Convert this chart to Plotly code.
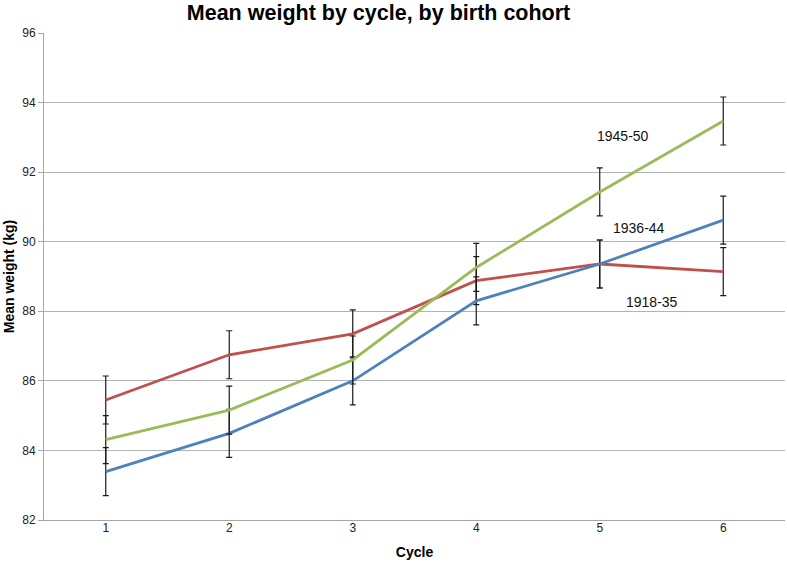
import plotly.graph_objects as go

cycles = [1, 2, 3, 4, 5, 6]
cohort_1918_35 = [85.45, 86.75, 87.35, 88.88, 89.36, 89.14]
cohort_1936_44 = [83.39, 84.49, 86.00, 88.30, 89.36, 90.62]
cohort_1945_50 = [84.31, 85.16, 86.60, 89.26, 91.43, 93.47]
err = 0.69

series = [
    ("1918-35", cohort_1918_35, "#C0504D"),
    ("1936-44", cohort_1936_44, "#4F81BD"),
    ("1945-50", cohort_1945_50, "#9BBB59"),
]

labels = [
    ("1945-50", 5.19, 93.03),
    ("1936-44", 5.32, 90.40),
    ("1918-35", 5.42, 88.27),
]

fig = go.Figure()
for name, vals, col in series:
    fig.add_trace(go.Scatter(
        x=cycles, y=vals, mode="lines", name=name,
        line=dict(color=col, width=2.8),
        error_y=dict(type="constant", value=err, color="#1a1a1a", thickness=1.2, width=3),
    ))

for text, x, y in labels:
    fig.add_annotation(x=x, y=y, text=text, showarrow=False,
                       font=dict(family="Liberation Sans, Arial", size=14, color="#111"))

fig.update_layout(
    width=787, height=566,
    margin=dict(l=44, r=2, t=33, b=46),
    paper_bgcolor="white", plot_bgcolor="white",
    showlegend=False,
    title=dict(text="<b>Mean weight by cycle, by birth cohort</b>", x=0.481, xanchor="center",
               y=0.978, yanchor="middle",
               font=dict(family="Liberation Sans, Arial", size=21.5, color="black")),
    font=dict(family="Liberation Sans, Arial", size=12, color="#222"),
)
fig.update_xaxes(
    range=[0.5, 6.5], tickvals=cycles, showgrid=False, zeroline=False, automargin=False,
    showline=True, linecolor="#a6a6a6", linewidth=1, ticks="", ticklabelstandoff=-3,
    title=dict(text="<b>Cycle</b>", font=dict(size=14, color="black"), standoff=12),
)
fig.update_yaxes(
    range=[82, 96], dtick=2, showgrid=True, gridcolor="#b3b3b3", gridwidth=1,
    zeroline=False, showline=True, linecolor="#a6a6a6", linewidth=1, automargin=False,
    ticks="outside", ticklen=5, tickcolor="#a6a6a6",
    title=dict(text="<b>Mean weight (kg)</b>", font=dict(size=14, color="black"), standoff=4),
)
fig.write_html("out.html", config={"displayModeBar": False},
               post_script="document.body.style.margin='0';")
